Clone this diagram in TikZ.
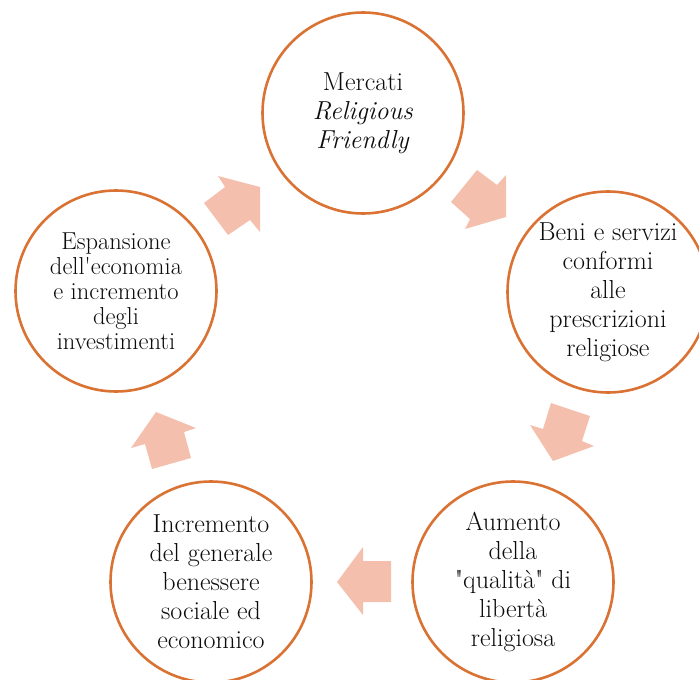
\documentclass[tikz,border=0pt]{standalone}
\usepackage{tikz}

\definecolor{kreisrand}{RGB}{217,114,50}
\definecolor{pfeilfarbe}{RGB}{244,191,173}
\definecolor{schrift}{RGB}{12,12,12}

\tikzset{
	stufe/.style={circle, draw=kreisrand, line width=2.6pt, fill=white,
		minimum size=201pt, inner sep=0pt, align=center, text=schrift,
		font=\fontsize{26}{29}\selectfont},
	pfeil/.style={fill=pfeilfarbe},
}

\begin{document}
\begin{tikzpicture}[x=1pt, y=-1pt]
	\useasboundingbox (0,0) rectangle (699,680);
	% Pfeile
	\fill[pfeil] (204,203) -- (225,187) -- (218,176) -- (260,187) -- (260,232)
	-- (250,220) -- (228,235) -- cycle;
	\fill[pfeil] (477,170) -- (497,185) -- (506,175) -- (506,217) -- (465,229)
	-- (470,219) -- (451,202) -- cycle;
	\fill[pfeil] (551,403) -- (590,416) -- (582,441) -- (594,446) -- (553,461)
	-- (530,425) -- (543,429) -- cycle;
	\fill[pfeil] (391,561) -- (391,602) -- (363,602) -- (363,615) -- (337,582)
	-- (363,547) -- (363,561) -- cycle;
	\fill[pfeil] (152,469) -- (191,458) -- (184,432) -- (196,428) -- (156,412)
	-- (131,448) -- (145,444) -- cycle;

	% Kreise
	\node[stufe] (mercati) at (363,113) {Mercati\\\textit{Religious}\\\textit{Friendly}};
	\node[stufe] (beni) at (608,292) {Beni e servizi\\conformi\\alle\\prescrizioni\\religiose};
	\node[stufe] (aumento) at (513,582) {Aumento\\della\\\textquotedbl qualità\textquotedbl{} di\\libertà\\religiosa};
	\node[stufe] (incremento) at (211,582) {Incremento\\del generale\\benessere\\sociale ed\\economico};
	\node[stufe, font=\fontsize{24.5}{25}\selectfont] (espansione) at (116,291)
	{Espansione\\dell\textquotesingle economia\\e incremento\\degli\\investimenti};
\end{tikzpicture}
\end{document}
